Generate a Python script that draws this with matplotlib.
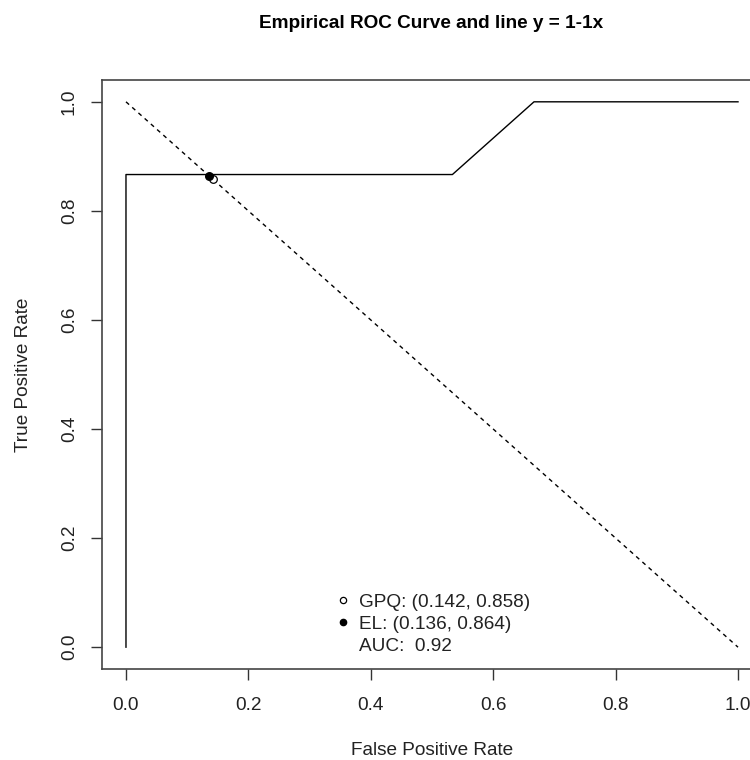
import matplotlib
matplotlib.use('Agg')
import matplotlib.pyplot as plt
from matplotlib.lines import Line2D

plt.rcParams['font.family'] = ['Liberation Sans', 'DejaVu Sans']

# empirical ROC points
fpr = [0.0, 0.0, 8 / 15, 10 / 15, 1.0]
tpr = [0.0, 13 / 15, 13 / 15, 1.0, 1.0]

# reference line y = 1 - 1x
line_x = [0.0, 1.0]
line_y = [1.0, 0.0]

gpq = (0.142, 0.858)
el = (0.136, 0.864)
auc = 0.92

ticks = [0.0, 0.2, 0.4, 0.6, 0.8, 1.0]
tick_labels = ['0.0', '0.2', '0.4', '0.6', '0.8', '1.0']

fs = 13.7

fig = plt.figure(figsize=(7.5, 7.6), dpi=100)
ax = fig.add_axes([101.5 / 750, 91 / 760, 661 / 750, 589 / 760])

ax.plot(fpr, tpr, color='black', lw=1.0)
ax.plot(line_x, line_y, color='black', lw=1.0, ls=(0, (3, 3)))
ax.scatter([gpq[0]], [gpq[1]], s=30, facecolors='white', edgecolors='black', lw=0.9, zorder=3)
ax.scatter([el[0]], [el[1]], s=30, color='black', zorder=4)

ax.set_xlim(-0.04, 1.04)
ax.set_ylim(-0.04, 1.04)
ax.set_xticks(ticks)
ax.set_xticklabels(tick_labels)
ax.set_yticks(ticks)
ax.set_yticklabels(tick_labels, rotation=90, va='center')
ax.tick_params(length=8, width=1, color='#333333', labelsize=fs, labelcolor='#222222')
ax.tick_params(axis='x', pad=12.5)
ax.tick_params(axis='y', pad=9)
for s in ax.spines.values():
    s.set_color('#444444')
    s.set_linewidth(1.2)

ax.set_xlabel('False Positive Rate', fontsize=fs, labelpad=20, color='#222222')
ax.set_ylabel('True Positive Rate', fontsize=fs, labelpad=21, color='#222222')
fig.text(431 / 750, 1 - 24 / 760, 'Empirical ROC Curve and line y = 1-1x',
         ha='center', va='center', fontsize=fs, fontweight='bold')

handles = [
    Line2D([], [], ls='none', marker='o', markersize=4.5, mfc='white', mec='black', mew=0.9),
    Line2D([], [], ls='none', marker='o', markersize=4.5, mfc='black', mec='black'),
    Line2D([], [], ls='none'),
]
labels = ['GPQ: (%.3f, %.3f)' % gpq, 'EL: (%.3f, %.3f)' % el, 'AUC:  %.2f' % auc]
ax.legend(handles, labels, loc='upper left', bbox_to_anchor=(0.343, 0.144),
          frameon=False, fontsize=fs, handlelength=0.6, handletextpad=0.5,
          labelspacing=0.25, borderpad=0, labelcolor='#222222')

fig.savefig('out.png', dpi=100)
